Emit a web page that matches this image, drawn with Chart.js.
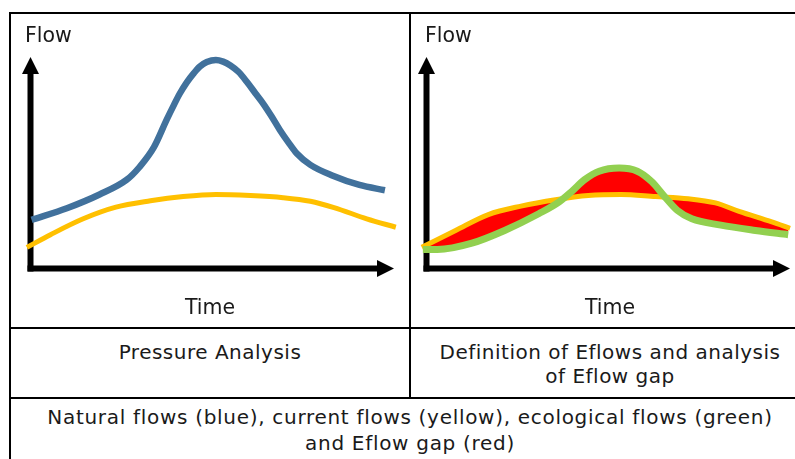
<!DOCTYPE html>
<html lang="en">
<head>
  <meta charset="UTF-8">
  <title>Eflows</title>
  <script src="https://cdn.jsdelivr.net/npm/chart.js"></script>
  <style>
    body { margin: 0; width: 795px; height: 459px; overflow: hidden; background: #fff; position: relative;
           font-family: "DejaVu Sans", Verdana, sans-serif; color: #1a1a1a; }
    .line { position: absolute; background: #000; }
    .lbl { position: absolute; font-size: 20.5px; line-height: 1; white-space: nowrap; }
    .cell { position: absolute; font-size: 20px; line-height: 24px; text-align: center; letter-spacing: 0.5px; }
    canvas { position: absolute; }
  </style>
</head>
<body>
<!-- table lines -->
<div class="line" style="left:9px; top:12px; width:801px; height:2px;"></div>
<div class="line" style="left:9px; top:12px; width:2px; height:460px;"></div>
<div class="line" style="left:409px; top:12px; width:2px; height:387px;"></div>
<div class="line" style="left:9px; top:327px; width:801px; height:2px;"></div>
<div class="line" style="left:9px; top:397px; width:801px; height:2px;"></div>

<canvas id="chartLeft" width="398" height="313" style="left:11px; top:14px;"></canvas>
<canvas id="chartRight" width="384" height="313" style="left:411px; top:14px;"></canvas>

<div class="lbl" style="left:25px; top:25px;">Flow</div>
<div class="lbl" style="left:425px; top:25px;">Flow</div>
<div class="lbl" style="left:160px; top:297px; width:100px; text-align:center;">Time</div>
<div class="lbl" style="left:560px; top:297px; width:100px; text-align:center;">Time</div>

<div class="cell" style="left:11px; top:340px; width:398px;">Pressure Analysis</div>
<div class="cell" style="left:411px; top:340px; width:398px;">Definition of Eflows and analysis<br>of Eflow gap</div>
<div class="cell" style="left:11px; top:404px; width:798px; line-height:26px; letter-spacing:0.7px;">Natural flows (blue), current flows (yellow), ecological flows (green)<br>and Eflow gap (red)</div>

<script>
  // natural flows (blue), left panel
  const naturalTime = [0.3, 10, 19, 26.5, 30, 34, 37.5, 39.5, 41, 43, 45, 46.6, 48.5, 51, 53, 55, 57.2, 59.5, 61.8, 64, 66.3, 68.6, 71, 73.2, 77, 83, 90.5, 97.5];
  const naturalFlow = [23, 28.5, 35, 42, 48, 57.5, 70.5, 77.5, 82.5, 88, 92.5, 95.5, 97.6, 98.6, 97.8, 96, 93, 88.3, 83, 78, 72, 65.5, 59.5, 54.5, 49, 44, 39.5, 37];

  // current flows (yellow)
  const currentLeftTime = [-1, 5.5, 14.5, 23.5, 33, 42, 51, 60.5, 69.5, 77, 83.5, 92.5, 100.5];
  const currentLeftFlow = [10, 16, 23.5, 29, 32, 34, 35, 34.5, 33.5, 31.8, 28.8, 23.5, 19.5];
  const currentRightTime = [-1.3, 8, 17, 26, 35.5, 44.5, 53.5, 63, 72, 79.5, 86, 95, 100];
  const currentRightFlow = [10, 18, 25.5, 29.5, 32.5, 34.5, 35, 34, 33, 31, 27, 22, 19];

  // ecological flows (green), right panel
  const ecoTime = [-1, 3, 12.5, 21.5, 31, 36.5, 40, 43.5, 47.5, 53, 58, 62, 65.5, 69, 73, 81, 90.5, 99.5];
  const ecoFlow = [9, 9, 12, 18, 26, 31.5, 36.5, 42, 46, 47.5, 46, 41, 34, 27.5, 23.5, 20.5, 18, 16];

  const BLUE = '#41719C', YELLOW = '#FFC000', GREEN = '#92D050', RED = '#FF0000';

  function pts(xs, ys) { return xs.map((x, i) => ({ x: x, y: ys[i] })); }

  // draws the two black arrow axes along the chart area
  const arrowAxes = {
    id: 'arrowAxes',
    beforeDraw(chart) {
      const a = chart.chartArea, c = chart.ctx, w = 6, head = 17;
      c.save();
      c.fillStyle = '#000';
      c.fillRect(a.left - w / 2, a.top + head - 1, w, a.bottom - a.top - head + 1 + w / 2);
      c.fillRect(a.left - w / 2, a.bottom - w / 2, a.right - a.left - head + w / 2 + 1, w);
      c.beginPath();
      c.moveTo(a.left, a.top);
      c.lineTo(a.left - head / 2, a.top + head);
      c.lineTo(a.left + head / 2, a.top + head);
      c.closePath();
      c.fill();
      c.beginPath();
      c.moveTo(a.right, a.bottom);
      c.lineTo(a.right - head, a.bottom - head / 2);
      c.lineTo(a.right - head, a.bottom + head / 2);
      c.closePath();
      c.fill();
      c.restore();
    }
  };

  function makeOptions(padding) {
    return {
      responsive: false,
      animation: false,
      layout: { padding: padding },
      elements: { point: { radius: 0 }, line: { cubicInterpolationMode: 'monotone' } },
      plugins: { legend: { display: false }, tooltip: { enabled: false }, filler: { drawTime: 'beforeDatasetsDraw' } },
      scales: {
        x: { type: 'linear', min: 0, max: 100, display: false },
        y: { type: 'linear', min: 0, max: 100, display: false }
      }
    };
  }

  new Chart(document.getElementById('chartLeft'), {
    type: 'line',
    data: {
      datasets: [
        { label: 'Natural flows', data: pts(naturalTime, naturalFlow), borderColor: BLUE, borderWidth: 6.5, clip: false, fill: false },
        { label: 'Current flows', data: pts(currentLeftTime, currentLeftFlow), borderColor: YELLOW, borderWidth: 5, clip: false, fill: false }
      ]
    },
    options: makeOptions({ left: 19.5, right: 15, top: 43, bottom: 58.5 }),
    plugins: [arrowAxes]
  });

  new Chart(document.getElementById('chartRight'), {
    type: 'line',
    data: {
      datasets: [
        { label: 'Ecological flows', data: pts(ecoTime, ecoFlow), borderColor: GREEN, borderWidth: 7, clip: false,
          fill: { target: 1 }, backgroundColor: RED },
        { label: 'Current flows', data: pts(currentRightTime, currentRightFlow), borderColor: YELLOW, borderWidth: 5, clip: false, fill: false }
      ]
    },
    options: makeOptions({ left: 15.5, right: 5, top: 43, bottom: 58.5 }),
    plugins: [arrowAxes]
  });
</script>
</body>
</html>
